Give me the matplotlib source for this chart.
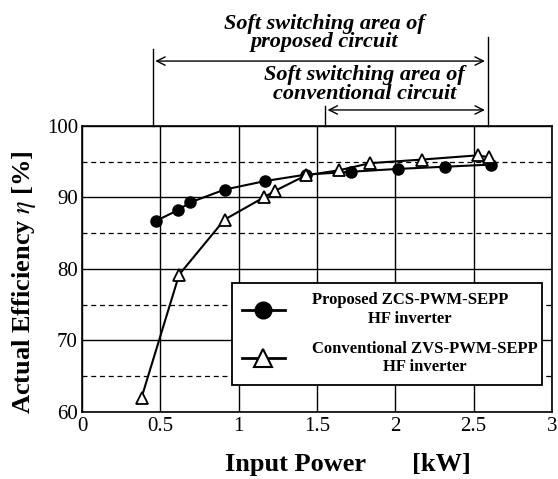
import matplotlib
matplotlib.use("Agg")
import matplotlib.pyplot as plt
from matplotlib.lines import Line2D
import matplotlib.transforms as mtransforms

# Data
prop_x = [0.47, 0.61, 0.69, 0.91, 1.17, 1.43, 1.72, 2.02, 2.32, 2.61]
prop_y = [86.7, 88.2, 89.3, 91.1, 92.3, 93.2, 93.6, 94.0, 94.3, 94.6]
conv_x = [0.38, 0.62, 0.91, 1.16, 1.23, 1.43, 1.64, 1.84, 2.17, 2.53, 2.60]
conv_y = [62.0, 79.2, 86.9, 90.0, 90.9, 93.1, 93.8, 94.8, 95.3, 95.9, 95.6]
xticks = [0, 0.5, 1, 1.5, 2, 2.5, 3]
xticklabels = ["0", "0.5", "1", "1.5", "2", "2.5", "3"]
yticks = [60, 70, 80, 90, 100]
dashed_y = [65, 75, 85, 95]
prop_label = "Proposed ZCS-PWM-SEPP\nHF inverter"
conv_label = "Conventional ZVS-PWM-SEPP\nHF inverter"
prop_area = (0.45, 2.59)
conv_area = (1.55, 2.59)

plt.rcParams['font.family'] = ['Liberation Serif', 'DejaVu Serif']
plt.rcParams['mathtext.fontset'] = 'stix'

fig = plt.figure(figsize=(5.58, 4.79), dpi=100)
ax = fig.add_axes([0.147, 0.140, 0.842, 0.597])

ax.set_xlim(0, 3)
ax.set_ylim(60, 100)
ax.set_xticks(xticks)
ax.set_xticklabels(xticklabels)
ax.set_yticks(yticks)
ax.tick_params(length=0, labelsize=15)
ax.tick_params(axis='x', pad=4)
ax.tick_params(axis='y', pad=3)
for s in ax.spines.values():
    s.set_linewidth(1.2)

ax.grid(True, which='major', color='black', linewidth=1.0)
for yv in dashed_y:
    ax.axhline(yv, color='black', linewidth=0.9, linestyle=(0, (4, 3)), zorder=1)

ax.plot(prop_x, prop_y, color='black', linewidth=1.5, marker='o', markersize=8,
        markerfacecolor='black', zorder=3)
ax.plot(conv_x, conv_y, color='black', linewidth=1.5, marker='^', markersize=9,
        markerfacecolor='white', markeredgewidth=1.3, zorder=4)

ax.set_xlabel("Input Power       [kW]", fontsize=19, fontweight='bold')
ax.xaxis.set_label_coords(0.566, -0.145)
ax.set_ylabel(r"Actual Efficiency $\eta$ [%]", fontsize=19, fontweight='bold')
ax.yaxis.set_label_coords(-0.094, 0.455)

h1 = Line2D([], [], color='black', linewidth=2, marker='o', markersize=12, markerfacecolor='black')
h2 = Line2D([], [], color='black', linewidth=2, marker='^', markersize=13, markerfacecolor='white',
            markeredgewidth=1.5)
leg = ax.legend([h1, h2], [prop_label, conv_label], loc='center',
                bbox_to_anchor=(0.32, 0.09, 0.66, 0.366), mode='expand', borderaxespad=0,
                fancybox=False, framealpha=1, edgecolor='black',
                prop={'family': 'Liberation Serif', 'weight': 'bold', 'size': 12},
                handlelength=2.6, labelspacing=0.85, borderpad=0.55, handletextpad=1.6)
leg.get_frame().set_linewidth(1.3)
leg.set_zorder(5)
for t in leg.get_texts():
    t.set_multialignment('center')

# Soft switching annotations
trans = mtransforms.blended_transform_factory(ax.transData, ax.transAxes)
lkw = dict(color='black', linewidth=1.0, transform=trans, clip_on=False)
ax.plot([prop_area[0], prop_area[0]], [1.0, 1.27], **lkw)
ax.plot([prop_area[1], prop_area[1]], [1.0, 1.31], **lkw)
ax.plot([conv_area[0], conv_area[0]], [1.0, 1.07], **lkw)
akw = dict(arrowstyle='<->,head_length=0.6,head_width=0.3', color='black', linewidth=1.0)
ax.annotate('', xy=(prop_area[0], 1.227), xytext=(prop_area[1], 1.227),
            xycoords=trans, textcoords=trans, arrowprops=akw, annotation_clip=False)
ax.annotate('', xy=(conv_area[0], 1.056), xytext=(conv_area[1], 1.056),
            xycoords=trans, textcoords=trans, arrowprops=akw, annotation_clip=False)
tkw = dict(transform=trans, ha='center', va='center', fontsize=16,
           fontweight='bold', fontstyle='italic', linespacing=0.88)
ax.text(1.548, 1.325, "Soft switching area of\nproposed circuit", **tkw)
ax.text(1.806, 1.145, "Soft switching area of\nconventional circuit", **tkw)

fig.savefig("out.png", dpi=100)
